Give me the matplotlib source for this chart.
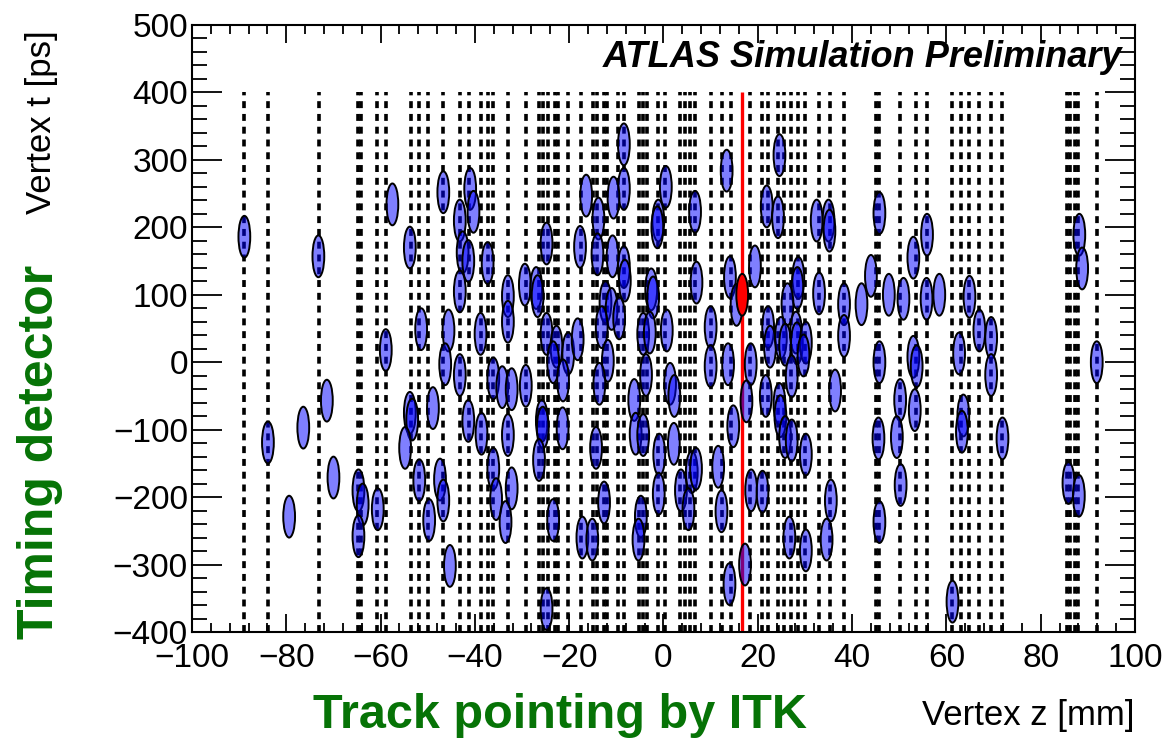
import matplotlib
matplotlib.use("Agg")
import matplotlib.pyplot as plt
from matplotlib.patches import Ellipse
from matplotlib.ticker import MultipleLocator

plt.rcParams['font.family'] = ['Liberation Sans', 'DejaVu Sans']
plt.rcParams['lines.scale_dashes'] = False

# z positions of the dashed lines (truth vertices) [mm]
dash_z = [-88.9, -83.9, -73.1, -64.7, -64.2, -60.7, -58.9, -53.6, -51.8, -49.9,
          -46.7, -43.2, -41.2, -38.8, -37.3, -36.1, -33.0, -29.2, -26.4, -25.5,
          -24.6, -23.0, -22.3, -20.2, -17.6, -14.9, -14.0, -12.6, -12.0, -9.6,
          -8.4, -5.2, -4.3, -3.4, -1.1, 0.3, 3.5, 4.6, 5.6, 6.7, 10.0, 12.5,
          14.3, 18.3, 20.8, 22.2, 24.2, 25.6, 27.0, 28.5, 30.0, 33.0, 35.3,
          38.3, 45.1, 45.8, 50.2, 53.6, 55.8, 61.3, 63.0, 64.9, 67.0, 69.5,
          71.9, 85.5, 86.3, 87.2, 88.0, 91.9]

# hard-scatter vertex
hs_z = 16.7
hs_t = 100

# pile-up vertices (z [mm], t [ps])
vtx_z = [-88.9, -83.9, -76.4, -79.4, -73.2,
         -57.5, -53.8, -51.4, -58.9, -71.4, -53.8, -53.3, -48.9, -54.8, -70.0,
         -64.7, -63.8, -64.7, -60.6, -51.8, -49.7, -47.4, -46.7,
         -46.7, -43.2, -41.0, -40.3, -42.6, -41.4, -37.3, -43.2, -24.8, -29.4,
         -27.0, -26.7, -33.0, -33.0, -45.6, -38.8, -24.8, -22.7, -20.2, -23.4,
         -46.3, -43.2, -36.1, -34.2, -32.2, -29.2, -21.3, -41.4, -38.6, -33.0,
         -25.8, -25.6, -21.4, -26.4, -36.1, -35.5, -32.2, -33.5, -23.4, -45.3,
         -24.8,
         -8.4, -8.4, -16.4, -10.6, 0.5, -13.8, -1.1, -1.3, -17.7, -14.0, -10.8,
         -8.4, -8.2, -2.6, -2.2, -12.3, -11.0, -9.4, -13.1, -18.2, -4.3, -2.9,
         0.7, -11.8, -13.6, -3.7, -6.2, 1.4, 2.3, -5.9, -4.3, 2.2, -14.3, -0.9,
         6.0, -1.0, 3.7, 5.3, -12.6, -4.8, -5.3, -17.2, -15.1,
         13.4, 24.6, 6.7, 21.9, 24.3, 32.5, 19.4, 14.1, 7.0, 15.5, 28.6, 28.4,
         26.3, 10.0, 22.2, 22.6, 24.9, 25.8, 28.1, 28.3, 30.2, 29.7, 10.0, 13.7,
         18.5, 27.2, 17.6, 21.7, 24.6, 24.8, 14.8, 25.8, 27.2, 30.2, 6.9, 11.6,
         12.3, 18.6, 21.0, 26.7, 30.2, 17.3, 14.0,
         35.0, 35.2, 45.8, 55.9, 53.0, 33.0, 44.0, 38.3, 42.0, 47.8, 50.9, 55.8,
         58.5, 38.3, 45.8, 53.0, 53.7, 36.4, 50.2, 53.3, 49.5, 45.6, 50.3, 35.5,
         34.6, 45.8,
         64.9, 67.0, 69.5, 69.5, 62.7, 63.6, 63.3, 71.9, 61.3,
         88.2, 88.8, 91.9, 85.9, 88.1]
vtx_t = [186, -119, -97, -229, 157,
         234, 170, 49, 18, -57, -75, -85, -68, -127, -171,
         -190, -211, -258, -218, -175, -234, -174, -205,
         252, 210, 257, 223, 163, 150, 147, 105, 176, 115,
         110, 98, 98, 60, 47, 42, 42, 23, 13, 0,
         -3, -19, -24, -37, -40, -35, -27, -87, -106, -108,
         -87, -97, -98, -145, -158, -203, -187, -237, -234, -302,
         -366,
         323, 257, 247, 244, 260, 213, 210, 200, 171, 160, 157,
         141, 121, 108, 96, 89, 79, 65, 52, 34, 42, 44,
         47, 2, -32, -19, -56, -32, -50, -106, -108, -121, -127, -137,
         -163, -195, -190, -218, -208, -229, -263, -260, -263,
         284, 307, 223, 231, 215, 210, 142, 126, 118, 85, 125, 110,
         86, 52, 52, 23, 36, 26, 44, 28, 29, 10, -6, -3,
         -3, -21, -58, -50, -62, -80, -95, -111, -116, -137, -158, -155,
         -221, -190, -192, -260, -279, -300, -329,
         210, 195, 221, 189, 155, 102, 128, 86, 86, 100, 94, 94,
         100, 39, 0, 8, -6, -42, -56, -71, -111, -113, -182, -205,
         -263, -237,
         97, 47, 36, -19, 13, -79, -103, -113, -355,
         189, 139, 0, -179, -198]

ell_w = 2.5   # mm
ell_h = 62    # ps
green = '#067306'

fig = plt.figure(figsize=(11.68, 7.41), dpi=100)
ax = fig.add_axes([0.1644, 0.1471, 0.8073, 0.8192])

ax.vlines(dash_z, -400, 400, colors='black', linewidth=2.6,
          linestyles=[(0, (5.0, 4.2))], zorder=1)
ax.vlines([hs_z], -400, 400, colors='red', linewidth=2.4, zorder=2)

for z, t in zip(vtx_z, vtx_t):
    ax.add_patch(Ellipse((z, t), ell_w, ell_h, facecolor=(0, 0, 1, 0.5),
                         edgecolor='black', linewidth=1.4, zorder=3))
ax.add_patch(Ellipse((hs_z, hs_t), ell_w, ell_h, facecolor='red',
                     edgecolor='black', linewidth=1.4, zorder=4))

ax.set_xlim(-100, 100)
ax.set_ylim(-400, 500)
ax.xaxis.set_major_locator(MultipleLocator(20))
ax.xaxis.set_minor_locator(MultipleLocator(4))
ax.yaxis.set_major_locator(MultipleLocator(100))
ax.yaxis.set_minor_locator(MultipleLocator(20))
ax.tick_params(which='both', direction='in', top=True, right=True,
               width=1.3, labelsize=24)
ax.tick_params(axis='x', which='major', length=13, pad=8)
ax.tick_params(axis='x', which='minor', length=6.5)
ax.tick_params(axis='y', which='major', length=21.6, pad=3)
ax.tick_params(axis='y', which='minor', length=10.8)
for s in ax.spines.values():
    s.set_linewidth(1.5)

ax.text(0.986, 0.946, 'ATLAS Simulation Preliminary', transform=ax.transAxes,
        ha='right', va='center', fontsize=26, fontweight='bold',
        fontstyle='italic')

fig.text(1135 / 1168, 1 - 716 / 741, 'Vertex z [mm]', ha='right', va='center',
         fontsize=25)
fig.text(42 / 1168, 1 - 30 / 741, 'Vertex t [ps]', ha='center', va='top',
         rotation=90, fontsize=25)
fig.text(560 / 1168, 1 - 716 / 741, 'Track pointing by ITK', ha='center',
         va='center', fontsize=35, fontweight='bold', color=green)
fig.text(40 / 1168, 1 - 452 / 741, 'Timing detector', ha='center',
         va='center', rotation=90, fontsize=36, fontweight='bold', color=green)

fig.savefig('out.png', dpi=100)
